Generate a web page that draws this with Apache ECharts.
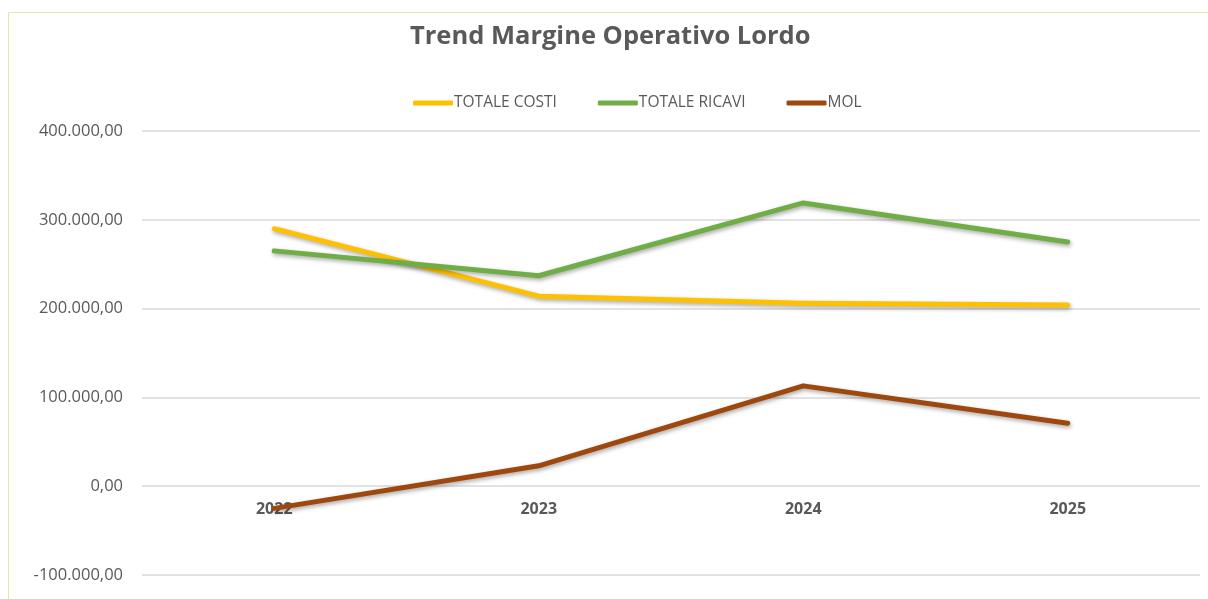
<!DOCTYPE html>
<html>
<head>
<meta charset="utf-8">
<script src="https://cdn.jsdelivr.net/npm/echarts@6/dist/echarts.min.js"></script>
<style>
  html, body { margin: 0; padding: 0; background: #fff; }
  #frame { position: absolute; left: 8px; top: 12px; width: 1200px; height: 587px;
           border-left: 1px solid #e6e6a6; border-top: 1px solid #e6e6a6; }
  #chart { position: absolute; left: 0; top: 0; width: 1208px; height: 599px; }
</style>
</head>
<body>
<div id="frame"></div>
<div id="chart"></div>
<script>
var years = ['2022', '2023', '2024', '2025'];
var totaleCosti = [290000, 214000, 206000, 204000];
var totaleRicavi = [265000, 237000, 319000, 275000];
var mol = [-25000, 23000, 113000, 71000];

// 400.000,00 style
function fmtIt(v) {
    var neg = v < 0;
    var s = Math.abs(Math.round(v)).toString();
    s = s.replace(/\B(?=(\d{3})+(?!\d))/g, '.');
    return (neg ? '-' : '') + s + ',00';
}

var myChart = echarts.init(document.getElementById('chart'));

function lineSeries(name, data, color) {
    return {
        name: name,
        type: 'line',
        data: data,
        symbol: 'none',
        lineStyle: {
            width: 5,
            color: color,
            cap: 'round',
            join: 'round',
            shadowColor: 'rgba(0,0,0,0.35)',
            shadowBlur: 4,
            shadowOffsetX: 1,
            shadowOffsetY: 2
        },
        itemStyle: { color: color }
    };
}

var option = {
    backgroundColor: 'transparent',
    title: {
        text: 'Trend Margine Operativo Lordo',
        left: 405,
        top: 19,
        textStyle: {
            color: '#595959',
            fontFamily: 'Open Sans',
            fontWeight: 'bold',
            fontSize: 25.5
        }
    },
    legend: {
        top: 90,
        left: 408,
        icon: 'roundRect',
        itemWidth: 40,
        itemHeight: 5,
        itemGap: 41,
        textStyle: {
            color: '#595959',
            fontFamily: 'Open Sans',
            fontSize: 15.5,
            padding: [0, 0, 0, -4]
        },
        data: ['TOTALE COSTI', 'TOTALE RICAVI', 'MOL']
    },
    grid: {
        left: 142,
        right: 8,
        top: 131,
        bottom: 24,
        containLabel: false,
        outerBoundsMode: 'none'
    },
    xAxis: {
        type: 'category',
        data: years,
        boundaryGap: true,
        // category labels sit just under the zero line
        offset: -88.8,
        axisLine: { show: false, onZero: false },
        axisTick: { show: false },
        axisLabel: {
            color: '#595959',
            fontFamily: 'Open Sans',
            fontWeight: 'bold',
            fontSize: 16,
            margin: 15
        },
        splitLine: { show: false }
    },
    yAxis: {
        type: 'value',
        min: -100000,
        max: 400000,
        interval: 100000,
        axisLine: { show: false },
        axisTick: { show: false },
        axisLabel: {
            color: '#595959',
            fontFamily: 'Open Sans',
            fontSize: 16.5,
            margin: 19,
            formatter: fmtIt
        },
        splitLine: {
            lineStyle: { color: '#d9d9d9', width: 1.5 }
        }
    },
    series: [
        lineSeries('TOTALE COSTI', totaleCosti, '#FFC000'),
        lineSeries('TOTALE RICAVI', totaleRicavi, '#70AD47'),
        lineSeries('MOL', mol, '#9E480E')
    ]
};

myChart.setOption(option);
</script>
</body>
</html>
